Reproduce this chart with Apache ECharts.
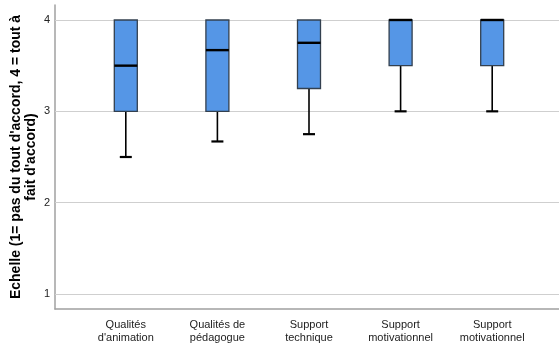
<!DOCTYPE html>
<html><head><meta charset="utf-8">
<script src="https://cdn.jsdelivr.net/npm/echarts@6/dist/echarts.min.js"></script>
<style>html,body{margin:0;padding:0;background:#fff}#c{width:559px;height:347px}</style>
</head><body><div id="c"></div>
<script>
const categories = ["Qualités\nd'animation", "Qualités de\npédagogue", "Support\ntechnique", "Support\nmotivationnel", "Support\nmotivationnel"];
const mins    = [2.5, 2.67, 2.75, 3.0, 3.0];
const q1s     = [3.0, 3.0, 3.25, 3.5, 3.5];
const medians = [3.5, 3.67, 3.75, 4.0, 4.0];
const q3s     = [4.0, 4.0, 4.0, 4.0, 4.0];
const maxs    = [4.0, 4.0, 4.0, 4.0, 4.0];
const yTicks  = [1, 2, 3, 4];
const yTitle  = "Echelle (1= pas du tout d'accord, 4 = tout à\nfait d'accord)";

const rows = categories.map((c, i) => [i, mins[i], q1s[i], medians[i], q3s[i], maxs[i]]);
const chart = echarts.init(document.getElementById('c'), null, {renderer: 'canvas'});
const TOP = 5, BOTTOM = 38;
chart.setOption({
  animation: false,
  grid: [
    {left: 55, right: 0, top: TOP, bottom: BOTTOM, containLabel: false, outerBoundsMode: 'none'},
    {left: 80, width: 458, top: TOP, bottom: BOTTOM, containLabel: false, outerBoundsMode: 'none'}
  ],
  xAxis: [
    {type: 'value', gridIndex: 0, min: 0, max: 1, axisLine: {show: true, onZero: false, lineStyle: {color: '#a0a0a0', width: 1.5}},
     axisTick: {show: false}, axisLabel: {show: false}, splitLine: {show: false}},
    {type: 'category', gridIndex: 1, data: categories, boundaryGap: true,
     axisLine: {show: false}, axisTick: {show: false},
     axisLabel: {fontFamily: 'Liberation Sans, Arial', fontSize: 11, color: '#222', lineHeight: 13, margin: 9, interval: 0}}
  ],
  yAxis: [
    {type: 'value', gridIndex: 0, min: 0.836, max: 4.164,
     axisLine: {show: true, lineStyle: {color: '#a0a0a0', width: 1.5}},
     axisTick: {show: false},
     axisLabel: {show: false},
     splitLine: {show: false},
     name: yTitle, nameLocation: 'middle', nameRotate: 90, nameGap: 16,
     nameTextStyle: {fontFamily: 'Liberation Sans, Arial', fontSize: 14, fontWeight: 'bold', color: '#000', lineHeight: 15, align: 'center'}},
    {type: 'value', gridIndex: 1, min: 0.836, max: 4.164, show: false}
  ],
  series: [
    {
      type: 'line', xAxisIndex: 0, yAxisIndex: 0, data: [], silent: true, z: 1,
      markLine: {
        symbol: 'none', silent: true, z: 1,
        lineStyle: {color: '#cfcfcf', width: 1.2, type: 'solid'},
        label: {show: true, position: 'start', formatter: p => String(p.value), fontFamily: 'Liberation Sans, Arial', fontSize: 11, color: '#222', distance: 5},
        data: yTicks.map(v => ({yAxis: v}))
      }
    },
    {
      type: 'custom', xAxisIndex: 1, yAxisIndex: 1, data: rows, z: 10,
      encode: {x: 0, y: [1, 2, 3, 4, 5]},
      renderItem: function (params, api) {
        const i = api.value(0);
        const vMin = api.value(1), vQ1 = api.value(2), vQ3 = api.value(4), vMax = api.value(5);
        const pMin = api.coord([i, vMin]);
        const pQ1 = api.coord([i, vQ1]);
        const pMed = api.coord([i, api.value(3)]);
        const pQ3 = api.coord([i, vQ3]);
        const pMax = api.coord([i, vMax]);
        const x = pMed[0];
        const bw = 23, cw = 12;
        const children = [];
        if (vMin < vQ1) {
          children.push({type: 'line', shape: {x1: x, y1: pQ1[1], x2: x, y2: pMin[1]}, style: {stroke: '#000', lineWidth: 1.6}});
          children.push({type: 'line', shape: {x1: x - cw / 2, y1: pMin[1], x2: x + cw / 2, y2: pMin[1]}, style: {stroke: '#000', lineWidth: 2.2}});
        }
        if (vMax > vQ3) {
          children.push({type: 'line', shape: {x1: x, y1: pQ3[1], x2: x, y2: pMax[1]}, style: {stroke: '#000', lineWidth: 1.6}});
          children.push({type: 'line', shape: {x1: x - cw / 2, y1: pMax[1], x2: x + cw / 2, y2: pMax[1]}, style: {stroke: '#000', lineWidth: 2.2}});
        }
        children.push({type: 'rect', shape: {x: x - bw / 2, y: pQ3[1], width: bw, height: pQ1[1] - pQ3[1]},
          style: {fill: '#5596e6', stroke: '#33404f', lineWidth: 1.3}});
        children.push({type: 'line', shape: {x1: x - bw / 2, y1: pMed[1], x2: x + bw / 2, y2: pMed[1]}, style: {stroke: '#000', lineWidth: 2.4}});
        return {type: 'group', children: children};
      }
    }
  ]
});
</script></body></html>
